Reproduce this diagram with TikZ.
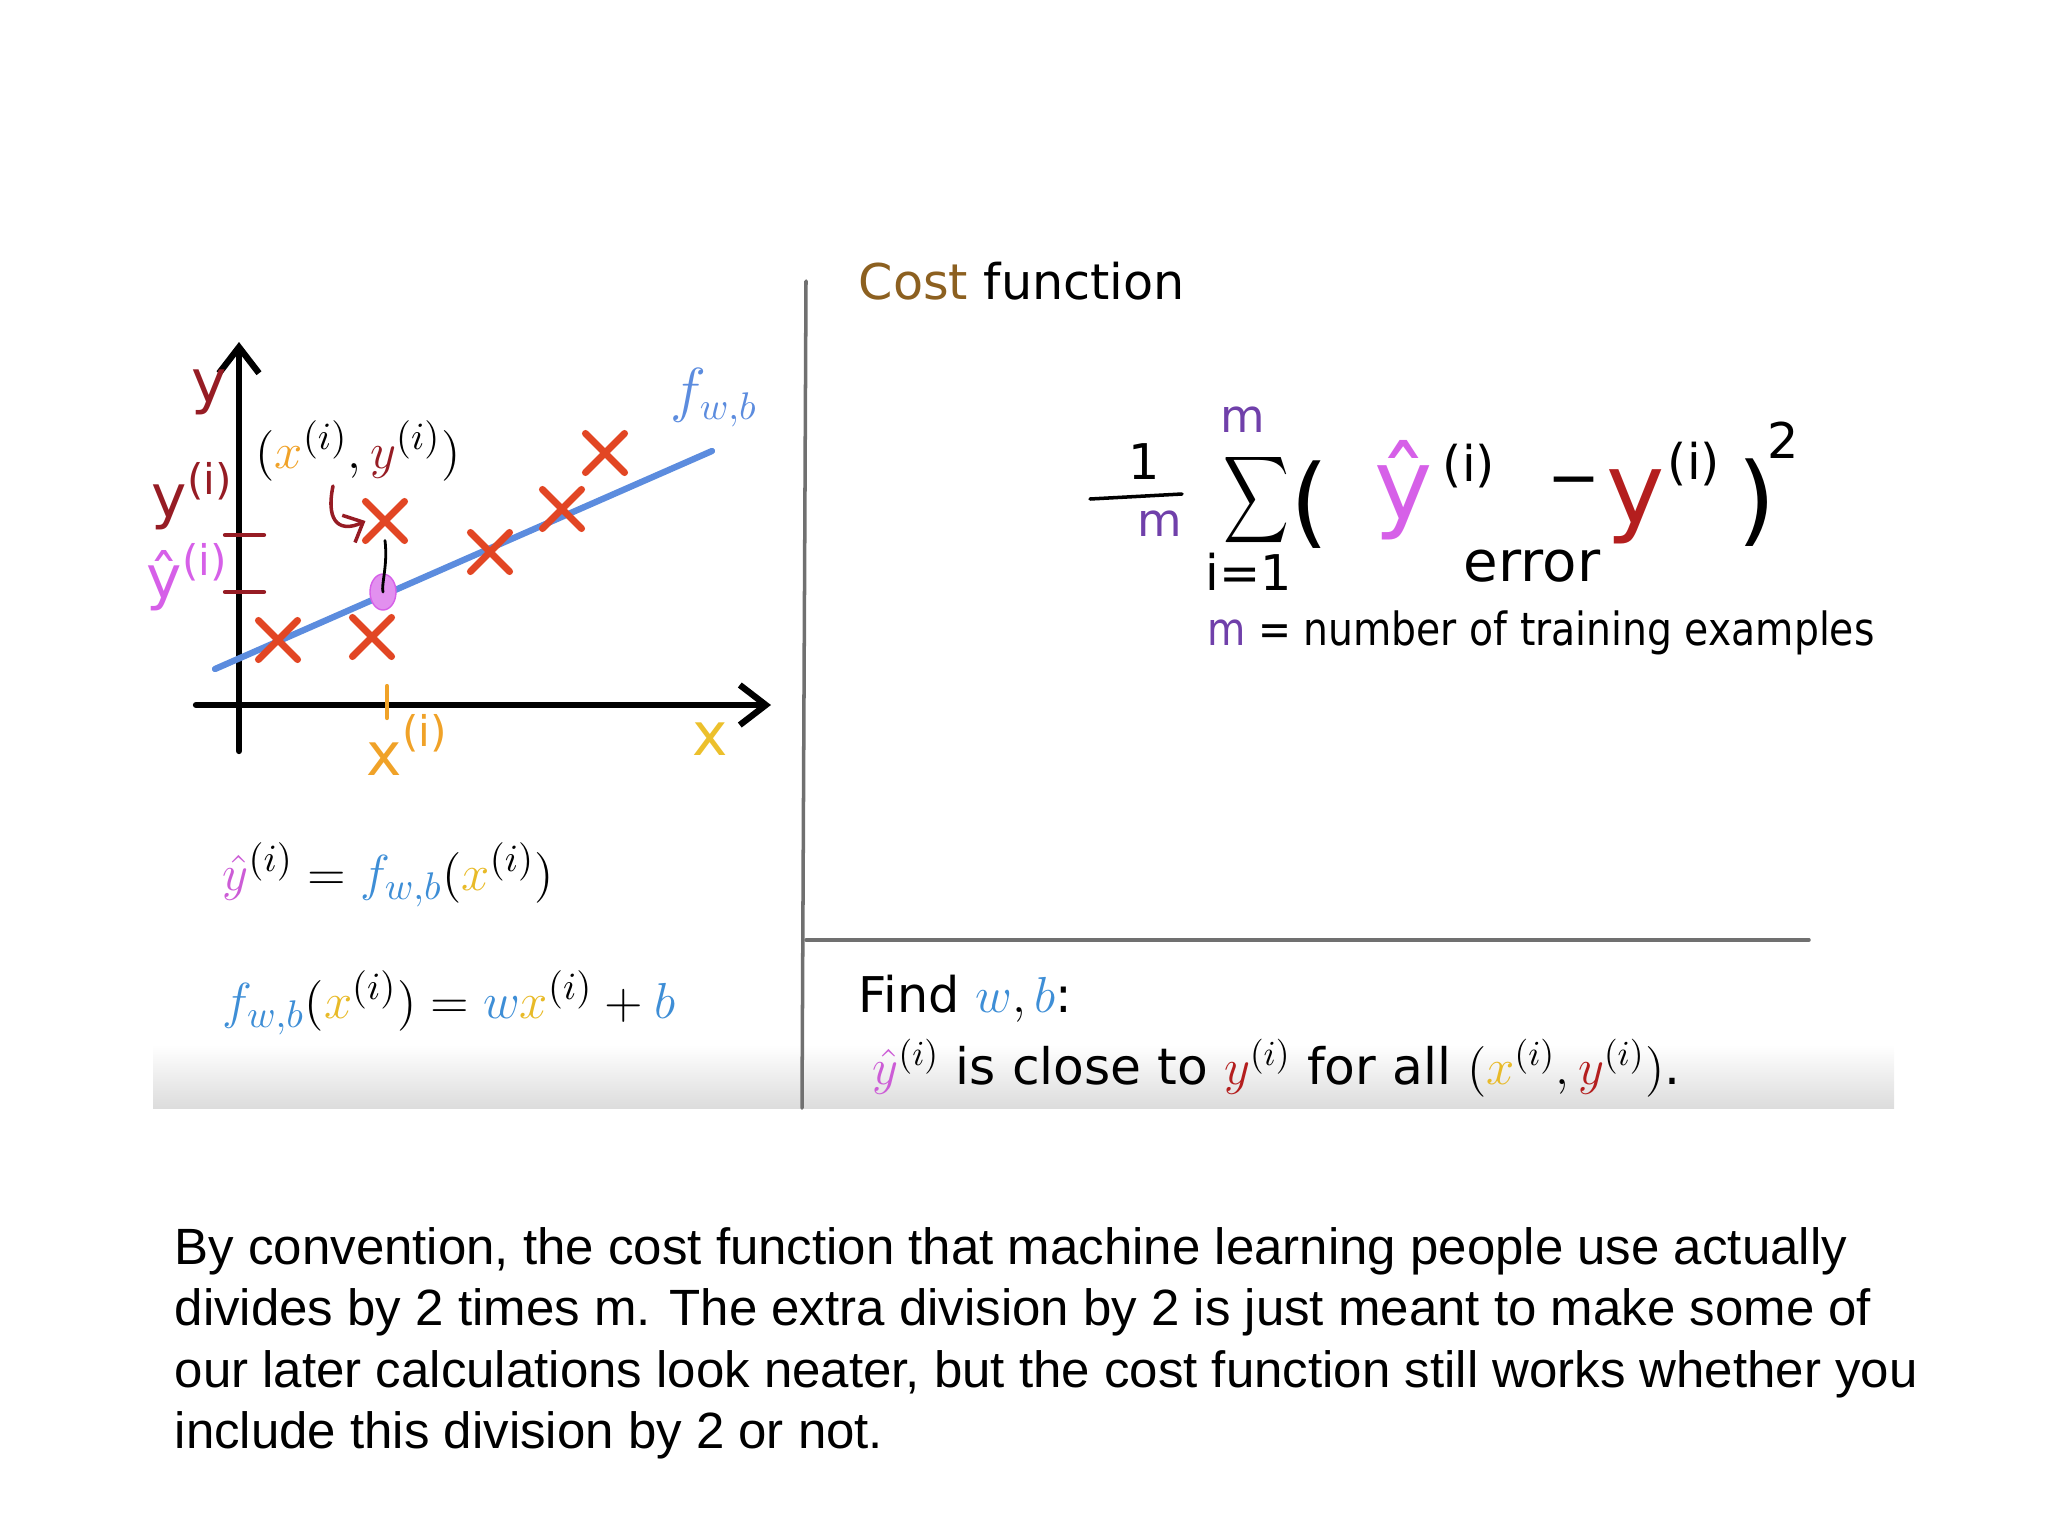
\documentclass[tikz,border=0pt]{standalone}
\usepackage{amsmath}
\usepackage{fontspec}
\usepackage{graphicx}
\setmainfont{DejaVu Sans}
\newfontfamily\notefont{Liberation Sans}
\newfontfamily\narrowfont[FakeStretch=0.86]{DejaVu Sans}
\usetikzlibrary{arrows.meta,shapes.geometric,shapes.misc,positioning}
\definecolor{crossred}{RGB}{226,70,36}
\definecolor{fitblue}{RGB}{92,140,222}
\definecolor{hatviolet}{RGB}{214,96,232}
\definecolor{handred}{RGB}{150,28,36}
\definecolor{axisyellow}{RGB}{236,192,44}
\definecolor{tickorange}{RGB}{240,162,40}
\definecolor{mpurple}{RGB}{112,64,170}
\definecolor{costbrown}{RGB}{140,96,32}
\definecolor{mathblue}{RGB}{62,142,214}
\definecolor{mathyellow}{RGB}{232,186,40}
\definecolor{mathviolet}{RGB}{204,92,214}
\definecolor{mathred}{RGB}{180,30,30}
\definecolor{rulegrey}{RGB}{112,112,112}
\definecolor{slidegrey}{RGB}{220,220,220}
\begin{document}
\begin{tikzpicture}[x=0.01cm,y=-0.01cm,line join=round,line cap=round,>={Straight Barb[length=2.6mm,width=4mm]},
  crossmark/.style={cross out,draw=crossred,line width=2pt,minimum size=0.32cm,inner sep=0pt},
  hand/.style={inner sep=0pt,font=\fontsize{#1}{#1}\selectfont},hand/.default=14,
  divider/.style={draw=rulegrey,line width=1pt}]
\useasboundingbox (0,0) rectangle (2048,1536);
\shade[top color=white,bottom color=slidegrey] (153,1045) rectangle (1894,1108);
\draw[divider] (806,281) -- (802,1108);
\draw[divider] (806,940) -- (1809,940);
\coordinate (ybot) at (239,751); \coordinate (ytop) at (239,342);
\coordinate (xleft) at (196,705); \coordinate (xright) at (771,705);
\draw[->,line width=1.8pt] (ybot) -- (ytop);
\draw[->,line width=1.8pt] (xleft) -- (xright);
\node[hand=17,handred] (ylab) at (209,392) {y};
\node[hand=17,axisyellow] (xlab) at (710,739) {x};
\draw[handred,line width=1.2pt] (225,535) -- (264,535);
\draw[handred,line width=1.2pt] (225,592) -- (264,592);
\node[hand=17,handred] (yi) at (192,496) {y\raisebox{0.7ex}{\fontsize{12}{12}\selectfont (i)}};
\node[hand=17,hatviolet] (yhi) at (187,577) {ŷ\raisebox{0.7ex}{\fontsize{12}{12}\selectfont (i)}};
\draw[tickorange,line width=1.2pt] (387,686) -- (387,718);
\node[hand=17,tickorange] (xi) at (407,745) {x\raisebox{0.9ex}{\fontsize{12}{12}\selectfont (i)}};
\draw[fitblue,line width=1.8pt] (215,669) -- (712,451);
\node[inner sep=0pt,fitblue,font=\fontsize{16}{16}\selectfont] (flab) at (714,398) {$f_{w,b}$};
\foreach \p [count=\k] in {(278,640),(372,637),(385,521),(490,552),(562,509),(605,453)}
  \node[crossmark] (c\k) at \p {};
\node[ellipse,draw=hatviolet,fill=hatviolet!70,minimum width=0.26cm,minimum height=0.36cm,inner sep=0pt] (pt) at (383,592) {};
\draw[line width=0.8pt] (c3.south) .. controls (388,565) and (381,585) .. (pt.center);
\node[inner sep=0pt,font=\fontsize{15}{15}\selectfont] (pair) at (358,451) {$(\textcolor{tickorange}{x}^{(i)},\textcolor{handred}{y}^{(i)})$};
\coordinate (hookstart) at (333,486);
\draw[->,handred,line width=1pt,>={Straight Barb[length=1.6mm,width=3mm]}] (hookstart) .. controls (325,525) and (342,532) .. (c3.west);
\node[inner sep=0pt,anchor=west,font=\fontsize{15}{15}\selectfont] (eqa) at (222,875) {$\textcolor{mathviolet}{\hat y}^{(i)} = \textcolor{mathblue}{f_{w,b}}(\textcolor{mathyellow}{x}^{(i)})$};
\node[inner sep=0pt,anchor=west,font=\fontsize{15}{15}\selectfont] (eqb) at (222,1003) {$\textcolor{mathblue}{f_{w,b}}(\textcolor{mathyellow}{x}^{(i)}) = \textcolor{mathblue}{w}\textcolor{mathyellow}{x}^{(i)} + \textcolor{mathblue}{b}$};
\node[anchor=west,inner sep=0pt,font=\fontsize{14}{14}\selectfont] (title) at (858,281) {\textcolor{costbrown}{Cost} function};
\node[hand=14] (one) at (1144,462) {1};
\draw[line width=1pt] (1090,499) -- (1182,494);
\node[hand=13,mpurple] (mden) at (1160,524) {m};
\node[inner sep=0pt,font=\fontsize{18}{18}\selectfont] (sig) at (1256,500) {\scalebox{0.75}[1]{$\displaystyle\sum$}};
\node[hand=13,mpurple] (mtop) at (1243,420) {m};
\node[hand=14] (ione) at (1249,572) {i=1};
\node[hand=28] (lpar) at (1310,505) {(};
\node[hand=28,hatviolet] (yh) at (1404,490) {ŷ};
\node[hand=14] (supa) at (1469,466) {(i)};
\node[hand=18] (minus) at (1574,488) {−};
\node[hand=28,mathred] (yy) at (1636,507) {y};
\node[hand=14] (supb) at (1694,464) {(i)};
\node[hand=28] (rpar) at (1757,503) {)};
\node[hand=14] (sq) at (1783,440) {2};
\node[hand=16] (err) at (1532,566) {error};
\node[inner sep=0pt,font=\narrowfont\fontsize{13}{13}\selectfont] (mdef) at (1541,633) {\textcolor{mpurple}{m} = number of training examples};
\node[anchor=west,inner sep=0pt,font=\fontsize{14}{14}\selectfont] (find) at (858,999) {Find $\textcolor{mathblue}{w},\textcolor{mathblue}{b}$:};
\node[anchor=west,inner sep=0pt,font=\fontsize{14.3}{14.3}\selectfont] (close) at (872,1068) {$\textcolor{mathviolet}{\hat y}^{(i)}$ is close to $\textcolor{mathred}{y}^{(i)}$ for all $(\textcolor{mathyellow}{x}^{(i)},\textcolor{mathred}{y}^{(i)})$.};
\node[anchor=base west,inner sep=0pt,font=\notefont\fontsize{14.5}{17.45}\selectfont] (p1) at (174,1264) {By convention, the cost function that machine learning people use actually};
\node[anchor=base west,inner sep=0pt,font=\notefont\fontsize{14.5}{17.45}\selectfont] (p2) at (174,1325) {divides by 2 times m. The extra division by 2 is just meant to make some of};
\node[anchor=base west,inner sep=0pt,font=\notefont\fontsize{14.5}{17.45}\selectfont] (p3) at (174,1387) {our later calculations look neater, but the cost function still works whether you};
\node[anchor=base west,inner sep=0pt,font=\notefont\fontsize{14.5}{17.45}\selectfont] (p4) at (174,1448) {include this division by 2 or not.};
\end{tikzpicture}
\end{document}
